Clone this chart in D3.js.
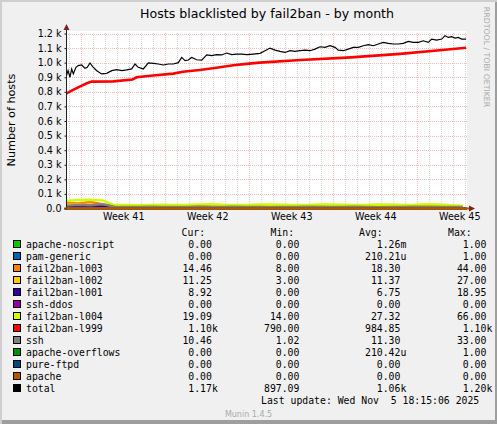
<!DOCTYPE html>
<html>
<head>
<meta charset="utf-8">
<script src="https://cdn.jsdelivr.net/npm/d3@7"></script>
<style>
  body { margin: 0; background: #F0F0F0; }
  svg { display: block; }
  text { font-family: "DejaVu Sans", sans-serif; }
  .mono { font-family: "DejaVu Sans Mono", monospace; white-space: pre; }
</style>
</head>
<body>
<svg id="chart" width="497" height="424"></svg>
<script>
// legend rows, in munin draw order
var labels = ["apache-noscript", "pam-generic", "fail2ban-l003", "fail2ban-l002", "fail2ban-l001",
  "ssh-ddos", "fail2ban-l004", "fail2ban-l999", "ssh", "apache-overflows", "pure-ftpd", "apache", "total"];
var colors = ["#00CC00", "#0066B3", "#FF8000", "#FFCC00", "#330099", "#990099", "#CCFF00",
  "#FF0000", "#808080", "#008F00", "#00487D", "#B35A00", "#000000"];
var curVals = ["0.00", "0.00", "14.46", "11.25", "8.92", "0.00", "19.09", "1.10k", "10.46", "0.00", "0.00", "0.00", "1.17k"];
var minVals = ["0.00", "0.00", "8.00", "3.00", "0.00", "0.00", "14.00", "790.00", "1.02", "0.00", "0.00", "0.00", "897.09"];
var avgVals = ["1.26m", "210.21u", "18.30", "11.37", "6.75", "0.00", "27.32", "984.85", "11.30", "210.42u", "0.00", "0.00", "1.06k"];
var maxVals = ["1.00", "1.00", "44.00", "27.00", "18.95", "0.00", "66.00", "1.10k", "33.00", "1.00", "0.00", "0.00", "1.20k"];

// y ticks (hosts)
var yTicks = [0, 100, 200, 300, 400, 500, 600, 700, 800, 900, 1000, 1100, 1200];

// small series, one reading per day
var smallDays = d3.range(34);
var l003 = [40, 35, 44, 30, 14, 12, 13, 14, 18, 16, 12, 20, 14, 12, 15, 18, 16, 14, 12, 15, 14, 16, 12, 10, 14, 13, 12, 11, 14, 13, 15, 14, 15, 14];
var l002 = [25, 27, 20, 22, 10, 9, 10, 11, 10, 12, 11, 10, 9, 11, 12, 10, 11, 10, 9, 10, 11, 12, 10, 9, 11, 10, 10, 11, 12, 11, 10, 11, 12, 11];
var l001 = [12, 15, 18, 14, 6, 5, 6, 7, 6, 5, 6, 7, 6, 5, 6, 7, 6, 6, 5, 6, 7, 6, 5, 6, 7, 6, 6, 5, 7, 6, 8, 9, 9, 9];
var l004 = [52, 58, 60, 56, 24, 25, 22, 24, 26, 25, 24, 28, 30, 26, 24, 25, 27, 28, 26, 25, 24, 28, 27, 26, 25, 24, 27, 28, 25, 26, 30, 27, 22, 19];
var sshV = [20, 25, 22, 30, 12, 10, 11, 12, 10, 11, 10, 12, 11, 10, 12, 11, 10, 9, 11, 10, 12, 11, 10, 11, 12, 10, 9, 11, 10, 12, 11, 10, 11, 10];

// [day offset, hosts]
var l999 = [[0, 790], [0.55, 813], [1.1, 836], [1.7, 859], [2.1, 870], [3.9, 872], [5.5, 885], [5.85, 900],
  [7.2, 912], [8.9, 925], [9.7, 938], [11.1, 950], [12.5, 965], [13.9, 982], [15.0, 992], [16.1, 1000],
  [19.5, 1018], [23.7, 1036], [27.8, 1060], [31.1, 1085], [33.3, 1102]];
var total = [[0, 911], [0.13, 945], [0.29, 900], [0.43, 957], [0.57, 923], [0.79, 968], [0.98, 980], [1.27, 984],
  [1.54, 961], [1.73, 968], [1.96, 998], [2.18, 973], [2.52, 945], [2.93, 923], [3.35, 927], [3.77, 945],
  [4.18, 952], [4.6, 945], [5.02, 950], [5.43, 957], [5.71, 991], [5.98, 968], [6.4, 957], [6.82, 998],
  [7.23, 995], [7.65, 991], [8.07, 984], [8.48, 991], [8.9, 991], [9.32, 1000], [9.6, 1036], [9.88, 1014],
  [10.15, 1018], [10.43, 1036], [10.85, 1020], [11.27, 1018], [11.68, 1053], [12.1, 1048], [12.52, 1055],
  [12.93, 1053], [13.35, 1066], [13.77, 1055], [14.18, 1059], [14.6, 1059], [15.02, 1055], [15.57, 1059],
  [16.13, 1064], [16.54, 1082], [16.96, 1100], [17.38, 1086], [17.79, 1077], [18.21, 1070], [18.63, 1082],
  [19.04, 1077], [19.46, 1082], [19.88, 1086], [20.29, 1082], [20.71, 1093], [21.13, 1109], [21.54, 1105],
  [21.96, 1116], [22.38, 1105], [22.65, 1086], [23.07, 1082], [23.48, 1093], [23.9, 1105], [24.32, 1105],
  [24.73, 1116], [25.15, 1123], [25.57, 1116], [25.98, 1128], [26.4, 1139], [26.82, 1132], [27.23, 1128],
  [27.65, 1128], [28.07, 1132], [28.48, 1146], [28.9, 1139], [29.32, 1139], [29.73, 1150], [30.15, 1139],
  [30.43, 1162], [30.85, 1155], [31.27, 1162], [31.54, 1185], [31.82, 1173], [32.1, 1178], [32.38, 1169],
  [32.65, 1173], [32.93, 1162], [33.3, 1162]];

var startTime = new Date(2025, 9, 3, 18, 24);
var endTime = new Date(2025, 10, 6, 2, 24);

function daily(vals) {
  return vals.map(function(v, i) { return [smallDays[i], v]; });
}
var flat = [[0, 0], [33.33, 0]];
var seriesData = [flat, flat, daily(l003), daily(l002), daily(l001), flat, daily(l004), l999, daily(sshV), flat, flat, flat, total];

var svg = d3.select("#chart");
var x = d3.scaleTime().domain([startTime, endTime]).range([66.5, 466.5]);
var y = d3.scaleLinear().domain([0, 1200]).range([208.5, 33.5]);

function dayToDate(d) { return new Date(startTime.getTime() + d * 864e5); }

// border shading
svg.append("rect").attr("width", 497).attr("height", 424).attr("fill", "#CFCFCF");
svg.append("rect").attr("x", 2).attr("y", 2).attr("width", 495).attr("height", 422).attr("fill", "#9E9E9E");
svg.append("rect").attr("x", 2).attr("y", 2).attr("width", 493).attr("height", 418).attr("fill", "#F0F0F0");

// canvas
svg.append("rect").attr("x", 66).attr("y", 31).attr("width", 401).attr("height", 178).attr("fill", "#FFFFFF");

var grid = svg.append("g").attr("shape-rendering", "crispEdges");
var days = d3.timeDay.range(startTime, endTime);
var weeks = d3.timeSunday.range(startTime, endTime);

grid.selectAll(".vminor").data(days).enter().append("line")
  .attr("x1", function(d) { return Math.round(x(d)) + 0.5; })
  .attr("x2", function(d) { return Math.round(x(d)) + 0.5; })
  .attr("y1", 33).attr("y2", 208)
  .attr("stroke", "#D4D4D4").attr("stroke-dasharray", "1,1");

grid.selectAll(".hmajor").data(yTicks.slice(1)).enter().append("line")
  .attr("x1", 66).attr("x2", 467)
  .attr("y1", function(d) { return Math.round(y(d)) + 0.5; })
  .attr("y2", function(d) { return Math.round(y(d)) + 0.5; })
  .attr("stroke", "#F0BCBC").attr("stroke-dasharray", "1,1");

grid.selectAll(".vmajor").data(weeks).enter().append("line")
  .attr("x1", function(d) { return Math.round(x(d)) + 0.5; })
  .attr("x2", function(d) { return Math.round(x(d)) + 0.5; })
  .attr("y1", 33).attr("y2", 210)
  .attr("stroke", "#F0BCBC").attr("stroke-dasharray", "1,1");

// series lines
var line = d3.line()
  .x(function(d) { return x(dayToDate(d[0])); })
  .y(function(d) { return y(d[1]); });

svg.append("g").selectAll("path").data(seriesData).enter().append("path")
  .attr("d", line)
  .attr("fill", "none")
  .attr("stroke", function(d, i) { return colors[i]; })
  .attr("stroke-width", function(d, i) {
    if (labels[i] == "total") return 1.2;
    return labels[i] == "fail2ban-l999" ? 2.6 : 2.4;
  })
  .attr("stroke-linejoin", "miter");

// axes
var axisG = svg.append("g");
axisG.append("line").attr("x1", 66.5).attr("x2", 66.5).attr("y1", 210).attr("y2", 29)
  .attr("stroke", "#1F1F1F").attr("shape-rendering", "crispEdges");
axisG.append("line").attr("x1", 64).attr("x2", 470).attr("y1", 208.5).attr("y2", 208.5)
  .attr("stroke", "#B35A00").attr("stroke-width", 2);
axisG.append("path").attr("d", "M63.5,30L66.5,24L69.5,30Z").attr("fill", "#7F1F1F");
axisG.append("path").attr("d", "M469,205.5L475,208.5L469,211.5Z").attr("fill", "#7F1F1F");

var yAxis = d3.axisLeft(y).tickValues(yTicks).tickSize(2).tickPadding(3)
  .tickFormat(function(d) { return d == 0 ? "0.0" : (d / 1000).toFixed(1) + " k"; });
var yg = svg.append("g").attr("transform", "translate(66.5,0)").call(yAxis);
yg.select(".domain").remove();
yg.selectAll("line").attr("stroke", "#1F1F1F");
yg.selectAll("text").attr("font-size", "9.6px").attr("fill", "#000").attr("font-family", "DejaVu Sans");

var mids = weeks.map(function(w) { return d3.timeHour.offset(w, 84); })
  .filter(function(m) { return m <= endTime; });
var xAxis = d3.axisBottom(x).tickValues(mids).tickSize(0).tickPadding(5)
  .tickFormat(d3.timeFormat("Week %V"));
var xg = svg.append("g").attr("transform", "translate(0,208.5)").call(xAxis);
xg.select(".domain").remove();
xg.selectAll("text").attr("font-size", "9.6px").attr("fill", "#000").attr("font-family", "DejaVu Sans");

// titles
svg.append("text").attr("x", 267).attr("y", 18).attr("text-anchor", "middle")
  .attr("font-size", "12.6px").text("Hosts blacklisted by fail2ban - by month");
svg.append("text").attr("transform", "translate(15,120) rotate(-90)").attr("text-anchor", "middle")
  .attr("font-size", "11.2px").text("Number of hosts");
svg.append("text").attr("transform", "translate(484,57) rotate(90)").attr("text-anchor", "middle")
  .attr("font-size", "7.8px").attr("fill", "#AAAAAA").text("RRDTOOL / TOBI OETIKER");

// legend
var legend = svg.append("g").attr("font-size", "9.8px");
var heads = [["Cur:", 181.5], ["Min:", 270.5], ["Avg:", 359], ["Max:", 448]];
heads.forEach(function(h) {
  legend.append("text").attr("class", "mono").attr("x", h[1]).attr("y", 236).text(h[0]);
});
var rows = legend.selectAll(".row").data(labels).enter().append("g")
  .attr("transform", function(d, i) { return "translate(0," + (248 + i * 12) + ")"; });
rows.append("rect").attr("x", 13.5).attr("y", -7.5).attr("width", 7).attr("height", 7)
  .attr("fill", function(d, i) { return colors[i]; })
  .attr("stroke", "#000").attr("stroke-width", 1);
rows.append("text").attr("class", "mono").attr("x", 26).text(function(d) { return d; });
[[curVals, 176.5], [minVals, 264], [avgVals, 365], [maxVals, 451]].forEach(function(c) {
  rows.append("text").attr("class", "mono").attr("x", function(d, i) {
      var s = c[0][i];
      return c[1] + (6 - (/[a-z]$/.test(s) ? s.length - 1 : s.length)) * 5.9;
    })
    .text(function(d, i) { return c[0][i]; });
});
legend.append("text").attr("class", "mono").attr("x", 261).attr("y", 404)
  .text("Last update: Wed Nov  5 18:15:06 2025");

svg.append("text").attr("x", 248.5).attr("y", 417).attr("text-anchor", "middle")
  .attr("font-size", "8px").attr("fill", "#AAAAAA").text("Munin 1.4.5");
</script>
</body>
</html>
